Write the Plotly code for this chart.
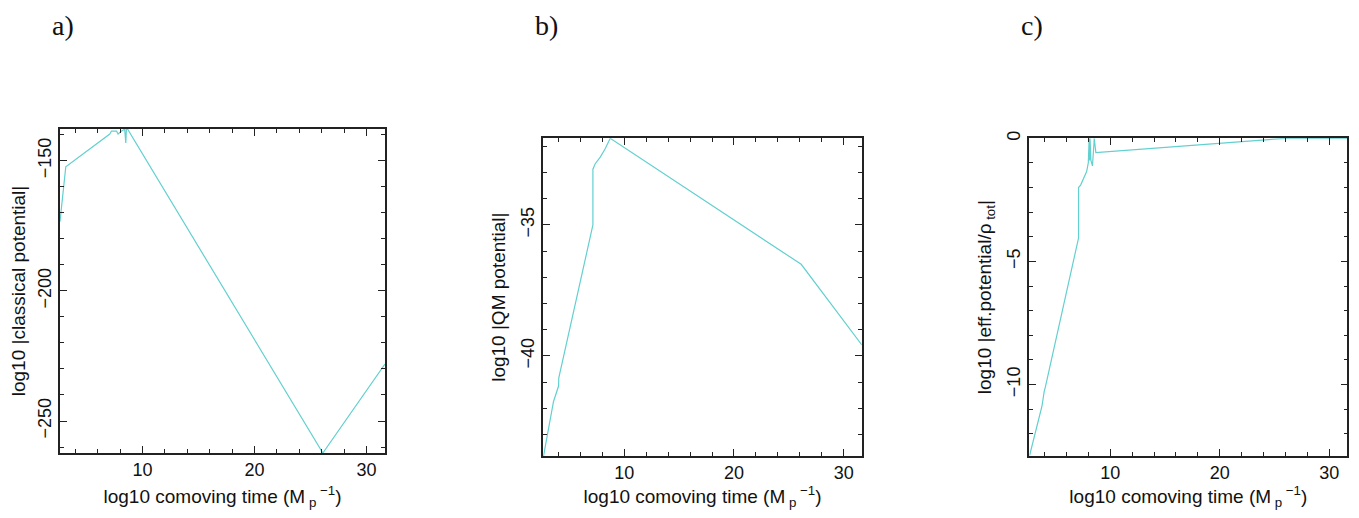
import plotly.graph_objects as go

# log10 comoving time (x) and log10 of the plotted quantity (y)
t_a = [2.62, 3.14, 7.07, 7.22, 7.67, 7.81, 8.12, 8.32, 8.40, 8.50, 8.55, 8.65, 26.1, 31.65]
v_a = [-173.4, -152.3, -139.75, -138.6, -138.6, -139.75, -138.6, -138.0, -137.9, -143.2, -138.0, -137.8, -262.3, -228.1]

t_b = [2.64, 3.55, 4.01, 4.03, 7.14, 7.14, 7.35, 7.81, 8.26, 8.57, 8.72, 26.13, 31.66]
v_b = [-43.82, -41.74, -41.15, -40.84, -35.0, -32.87, -32.66, -32.41, -32.09, -31.83, -31.69, -36.5, -39.58]

t_c = [2.64, 3.77, 3.98, 4.07, 7.11, 7.11, 7.3, 7.6, 7.85, 8.0, 8.06, 8.08, 8.12, 8.16, 8.24,
       8.38, 8.52, 8.54, 8.57, 8.69, 25.95, 31.65]
v_c = [-12.88, -10.88, -10.27, -10.12, -4.05, -2.0, -1.9, -1.6, -1.35, -1.0, -0.3, 0.0, -0.9, 0.0, -0.9,
       -1.12, -0.2, 0.0, -0.1, -0.58, 0.0, 0.0]

panel_labels = ["a)", "b)", "c)"]
y_titles = ["log10 |classical potential|", "log10 |QM potential|",
            "log10 |eff.potential/ρ<sub> tot</sub>|"]
x_title = "log10 comoving time (M<sub> p</sub><sup> −1</sup>)"

LINE = "#62d0cf"
FONT = "Liberation Sans, Arial, sans-serif"

# page body keeps its 8px default margin, so the figure is 16px smaller than the window
W, H = 1343, 502
x_domains = [[0.0387, 0.2807], [0.3986, 0.6357], [0.7605, 0.9973]]
y_domains = [[0.1135, 0.7590], [0.1076, 0.7404], [0.1076, 0.7404]]
y_ranges = [[-262.3, -137.8], [-43.82, -31.69], [-12.9, 0.0]]
y_ticks = [([-150, -200, -250], 10), ([-35, -40], 1), ([0, -5, -10], 1)]

fig = go.Figure()
for i, (t, v) in enumerate([(t_a, v_a), (t_b, v_b), (t_c, v_c)]):
    n = "" if i == 0 else str(i + 1)
    fig.add_trace(go.Scatter(x=t, y=v, mode="lines", line=dict(color=LINE, width=1.2),
                             xaxis="x" + n, yaxis="y" + n, showlegend=False))
    common = dict(showgrid=False, zeroline=False, showline=True, linecolor="#222",
                  linewidth=1.5, mirror="allticks", ticks="inside", ticklen=7,
                  tickcolor="#222", tickwidth=1.2, automargin=False,
                  tickfont=dict(family=FONT, size=18, color="#111"))
    fig.layout["xaxis" + n] = dict(
        common, domain=x_domains[i], anchor="y" + n, range=[2.62, 31.65],
        tickvals=[10, 20, 30], minor=dict(dtick=2, tick0=0, ticks="inside", ticklen=4,
                                          tickcolor="#222", tickwidth=1),
        title=dict(text=x_title, font=dict(family=FONT, size=19, color="#111"), standoff=12))
    vals, mdt = y_ticks[i]
    fig.layout["yaxis" + n] = dict(
        common, domain=y_domains[i], anchor="x" + n, range=y_ranges[i],
        tickvals=vals, tickangle=-90,
        minor=dict(dtick=mdt, tick0=0, ticks="inside", ticklen=4, tickcolor="#222", tickwidth=1),
        title=dict(text=y_titles[i], font=dict(family=FONT, size=19, color="#111"), standoff=8))
    fig.add_annotation(text=panel_labels[i], xref="paper", yref="paper",
                       x=x_domains[i][0] - 0.0075, y=0.966, xanchor="left", yanchor="middle",
                       showarrow=False,
                       font=dict(family="Liberation Serif, DejaVu Serif, serif", size=28, color="#111"))

fig.update_layout(width=W, height=H, margin=dict(l=0, r=0, t=0, b=0),
                  paper_bgcolor="white", plot_bgcolor="white")
fig.write_html("out.html")
